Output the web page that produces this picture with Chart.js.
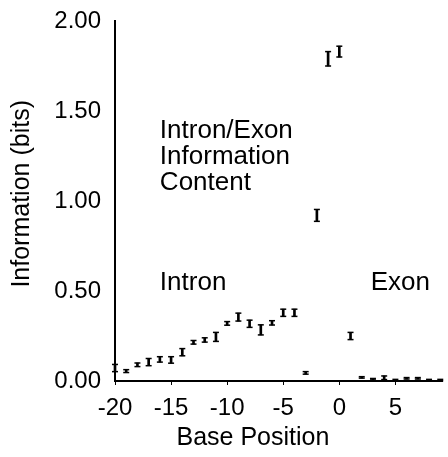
<!DOCTYPE html>
<html>
<head>
<meta charset="utf-8">
<script src="https://cdn.jsdelivr.net/npm/chart.js@4.4.1/dist/chart.umd.min.js"></script>
<style>
html, body { margin: 0; padding: 0; background: #fff; }
#wrap { width: 448px; height: 457px; }
</style>
</head>
<body>
<div id="wrap"><canvas id="infoChart" width="448" height="457"></canvas></div>
<script>
// Data
const positions = [-20, -19, -18, -17, -16, -15, -14, -13, -12, -11, -10, -9, -8, -7, -6, -5, -4, -3, -2, -1, 0, 1, 2, 3, 4, 5, 6, 7, 8, 9];
const infoBits = [0.072, 0.055, 0.09, 0.105, 0.12, 0.117, 0.16, 0.215, 0.228, 0.245, 0.32, 0.355, 0.318, 0.284, 0.323, 0.379, 0.379, 0.045, 0.92, 1.79, 1.83, 0.25, 0.02, 0.01, 0.018, 0.005, 0.015, 0.015, 0.005, 0.005];
const errBits = [0.02, 0.008, 0.01, 0.02, 0.015, 0.018, 0.02, 0.01, 0.012, 0.025, 0.01, 0.022, 0.02, 0.028, 0.012, 0.02, 0.02, 0.007, 0.033, 0.04, 0.03, 0.02, 0.004, 0.004, 0.01, 0.004, 0.004, 0.004, 0.004, 0.004];
const xTickValues = [-20, -15, -10, -5, 0, 5];
const yTickValues = [0, 0.5, 1, 1.5, 2];
const titleLines = ['Intron/Exon', 'Information', 'Content'];
const regionLabels = ['Intron', 'Exon'];
const xTitle = 'Base Position';
const yTitle = 'Information (bits)';

const FONT = '"Liberation Sans", Arial, sans-serif';

// Текст на графике: заголовок, подписи областей, подписи осей
const textPlugin = {
    id: 'texts',
    afterDraw(chart) {
        const { ctx, chartArea, scales: { x, y } } = chart;
        ctx.save();
        ctx.fillStyle = '#000';
        ctx.font = '26px ' + FONT;
        ctx.textBaseline = 'middle';
        ctx.textAlign = 'left';
        const left = x.getPixelForValue(-16);
        titleLines.forEach((t, i) => ctx.fillText(t, left, y.getPixelForValue(1.39) + i * 26));
        ctx.fillText(regionLabels[0], left, y.getPixelForValue(0.546));
        ctx.fillText(regionLabels[1], x.getPixelForValue(2.8), y.getPixelForValue(0.546));

        ctx.font = '25px ' + FONT;
        ctx.textAlign = 'center';
        ctx.fillText(xTitle, x.getPixelForValue(-7.7), chartArea.bottom + 57);
        ctx.translate(chartArea.left - 93, y.getPixelForValue(1.04));
        ctx.rotate(-Math.PI / 2);
        ctx.fillText(yTitle, 0, 0);
        ctx.restore();
    }
};

const ctx = document.getElementById('infoChart').getContext('2d');

new Chart(ctx, {
    type: 'scatter',
    data: {
        datasets: [
            {
                // вертикальные отрезки погрешности
                type: 'bar',
                data: positions.map((p, i) => ({ x: p, y: [infoBits[i] - errBits[i], infoBits[i] + errBits[i]] })),
                backgroundColor: '#000',
                borderWidth: 0,
                barThickness: 2,
                clip: false
            },
            {
                data: positions.map((p, i) => ({ x: p, y: infoBits[i] + errBits[i] })),
                pointStyle: 'line',
                pointRadius: 3,
                borderColor: '#000',
                borderWidth: 1.5,
                clip: false
            },
            {
                data: positions.map((p, i) => ({ x: p, y: infoBits[i] - errBits[i] })),
                pointStyle: 'line',
                pointRadius: 3,
                borderColor: '#000',
                borderWidth: 1.5,
                clip: false
            }
        ]
    },
    options: {
        responsive: false,
        animation: false,
        events: [],
        layout: { padding: { top: 21, right: 0, bottom: 0, left: 0 } },
        plugins: {
            legend: { display: false },
            tooltip: { enabled: false }
        },
        scales: {
            x: {
                type: 'linear',
                min: -20,
                max: 9.2,
                offset: false,
                afterBuildTicks: s => { s.ticks = xTickValues.map(v => ({ value: v })); },
                afterFit: s => { s.height = 76; },
                ticks: { color: '#000', font: { family: FONT, size: 24 }, padding: 9, maxRotation: 0 },
                grid: { drawOnChartArea: false, offset: false, tickLength: 4, color: '#000', lineWidth: 1 },
                border: { display: true, color: '#000', width: 2 }
            },
            y: {
                type: 'linear',
                min: 0,
                max: 2,
                afterBuildTicks: s => { s.ticks = yTickValues.map(v => ({ value: v })); },
                afterFit: s => { s.width = 115; },
                ticks: { color: '#000', font: { family: FONT, size: 24 }, padding: 6, callback: v => v.toFixed(2) },
                grid: { display: false },
                border: { display: true, color: '#000', width: 2 }
            }
        }
    },
    plugins: [textPlugin]
});
</script>
</body>
</html>
